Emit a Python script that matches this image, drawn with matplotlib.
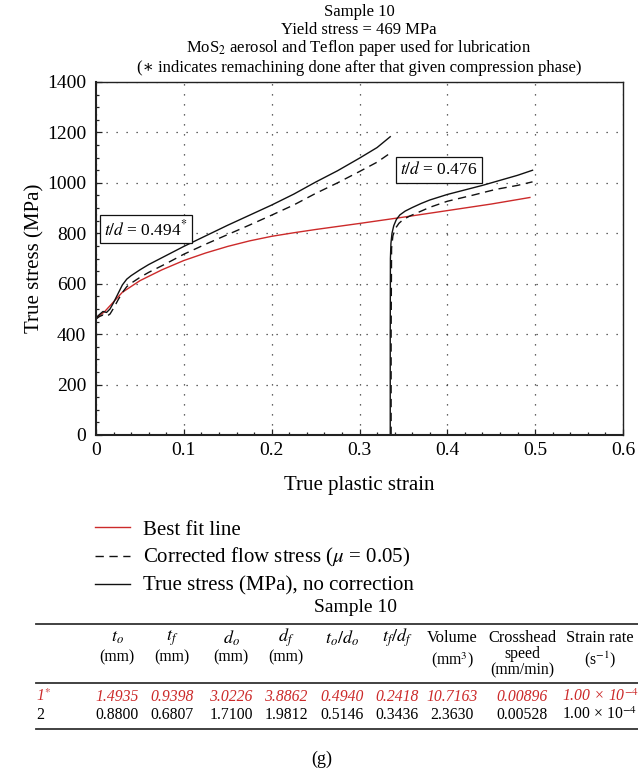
import matplotlib
matplotlib.use("Agg")
import matplotlib.pyplot as plt
from matplotlib.lines import Line2D
from matplotlib.ticker import MultipleLocator

plt.rcParams['font.family'] = ['Liberation Serif', 'DejaVu Serif']
plt.rcParams['mathtext.fontset'] = 'stix'

# ---------------- data ----------------
# Sample 10, compression phase 1 (t/d = 0.494*)
x1 = [0, 0.004, 0.008, 0.012, 0.016, 0.02, 0.025, 0.03, 0.035, 0.04, 0.05, 0.06,
      0.08, 0.1, 0.125, 0.15, 0.175, 0.2, 0.225, 0.25, 0.275, 0.3, 0.32, 0.335]
true1 = [465, 478, 490, 486, 500, 525, 560, 595, 618, 632, 655, 676,
         712, 748, 790, 832, 872, 912, 955, 1003, 1048, 1098, 1140, 1183]
corr1 = [460, 470, 476, 470, 480, 503, 535, 565, 588, 602, 625, 645,
         680, 717, 757, 795, 833, 872, 912, 958, 1000, 1045, 1082, 1118]

# compression phase 2 (t/d = 0.476)
x2 = [0.335, 0.335, 0.3352, 0.3358, 0.337, 0.339, 0.342, 0.346, 0.352, 0.36,
      0.37, 0.38, 0.4, 0.42, 0.44, 0.46, 0.48, 0.497]
true2 = [0, 400, 700, 760, 800, 830, 855, 873, 888, 902,
         918, 932, 954, 972, 990, 1010, 1030, 1050]
x2c = [0.336, 0.336, 0.3365, 0.338, 0.341, 0.345, 0.35, 0.357, 0.365, 0.38,
       0.4, 0.43, 0.455, 0.48, 0.497]
corr2 = [0, 400, 740, 790, 820, 840, 855, 868, 880, 903,
         927, 952, 974, 990, 1004]

# best fit line
xfit = [0, 0.01, 0.02, 0.03, 0.05, 0.075, 0.1, 0.125, 0.15, 0.175, 0.2, 0.225,
        0.25, 0.3, 0.35, 0.4, 0.45, 0.494]
yfit = [462, 490, 528, 566, 612, 655, 692, 722, 748, 770, 788, 802,
        815, 839, 864, 890, 916, 942]

labels_legend = ['Best fit line', r'Corrected flow stress ($\mu$ = 0.05)',
                 'True stress (MPa), no correction']
annot1 = r'$t/d$ = 0.494$^{*}$'
annot2 = r'$t/d$ = 0.476'

title_lines = ['Sample 10', 'Yield stress = 469 MPa',
               r'MoS$_2$ aerosol and Teflon paper used for lubrication',
               '(\u2217 indicates remachining done after that given compression phase)']

# table
table_title = 'Sample 10'
col_head1 = [r'$t_o$', r'$t_f$', r'$d_o$', r'$d_f$', r'$t_o/d_o$', r'$t_f/d_f$',
             'Volume', 'Crosshead', 'Strain rate']
col_head2 = ['(mm)', '(mm)', '(mm)', '(mm)', '', '', r'(mm$^3$)', 'speed', r'(s$^{-1}$)']
col_head3 = ['', '', '', '', '', '', '', '(mm/min)', '']
row_labels = [r'1$^{*}$', '2']
row1 = ['1.4935', '0.9398', '3.0226', '3.8862', '0.4940', '0.2418', '10.7163',
        '0.00896', r'1.00 × 10$^{-4}$']
row2 = ['0.8800', '0.6807', '1.7100', '1.9812', '0.5146', '0.3436', '2.3630',
        '0.00528', r'1.00 × 10$^{-4}$']
panel_label = '(g)'

# ---------------- figure ----------------
W, H = 638, 773
fig = plt.figure(figsize=(W / 100, H / 100), dpi=100)

def fx(px):
    return px / W

def fy(py):
    return 1 - py / H

ax = fig.add_axes([fx(96), fy(435), fx(623) - fx(96), fy(82) - fy(435)])

red = '#cc2a2a'
l_fit, = ax.plot(xfit, yfit, color=red, lw=1.0)
l_corr, = ax.plot(x1, corr1, color='#111111', lw=1.0, ls=(0, (6, 4)))
ax.plot(x2c, corr2, color='#111111', lw=1.0, ls=(0, (6, 4)))
l_true, = ax.plot(x1, true1, color='#111111', lw=1.0)
ax.plot(x2, true2, color='#111111', lw=1.0)

ax.set_xlim(0, 0.6)
ax.set_ylim(0, 1400)
ax.xaxis.set_major_locator(MultipleLocator(0.1))
ax.xaxis.set_minor_locator(MultipleLocator(0.02))
ax.yaxis.set_major_locator(MultipleLocator(200))
ax.yaxis.set_minor_locator(MultipleLocator(50))
ax.set_xticks([0, 0.1, 0.2, 0.3, 0.4, 0.5, 0.6])
ax.set_xticklabels(['0', '0.1', '0.2', '0.3', '0.4', '0.5', '0.6'])
ax.tick_params(which='both', direction='in', top=False, right=False,
               labelsize=14, width=0.9, color='#222222')
ax.tick_params(which='major', length=4, pad=5)
ax.tick_params(which='minor', length=2.5)
ax.tick_params(axis='y', which='major', pad=7)
ax.grid(True, which='major', color='#333333', lw=0.9, ls=(0, (1, 7)))
for s in ax.spines.values():
    s.set_linewidth(1.0)
    s.set_color('#222222')
ax.spines['left'].set_linewidth(1.5)
ax.spines['bottom'].set_linewidth(1.5)

ax.set_xlabel('True plastic strain', fontsize=15, labelpad=12)
ax.set_ylabel('True stress (MPa)', fontsize=15, labelpad=2)

bbox = dict(boxstyle='square,pad=0.25', fc='white', ec='#111111', lw=0.9)
ax.text(0.057, 817, annot1, fontsize=12.5, ha='center', va='center', bbox=bbox)
ax.text(0.39, 1051, annot2, fontsize=12.5, ha='center', va='center', bbox=bbox)

# titles
ty = [12, 30, 48, 68]
for t, y in zip(title_lines, ty):
    fig.text(fx(359), fy(y), t, ha='center', va='center', fontsize=12)

# legend
fig.legend([l_fit, l_corr, l_true], labels_legend, loc='upper left',
           bbox_to_anchor=(fx(95), fy(520)), frameon=False, fontsize=15,
           handlelength=1.7, handletextpad=0.6, labelspacing=0.33,
           borderpad=0, borderaxespad=0)

# table
fig.text(fx(355), fy(608), table_title, ha='center', va='center', fontsize=14)
for yy, lw in [(624, 1.3), (683, 1.3), (729, 1.3)]:
    fig.add_artist(Line2D([fx(36), 1.0], [fy(yy), fy(yy)], transform=fig.transFigure,
                          color='#333333', lw=lw))
colx = [117, 172, 231, 286, 342, 397, 452, 522, 600]
tfs = 11.3
for i, cx in enumerate(colx):
    if col_head3[i]:
        ys = [638, 654, 670]
    elif i in (6, 8):
        ys = [638, 660, None]
    else:
        ys = [638, 657, None]
    hfs = 13 if col_head1[i].startswith('$') else tfs + 0.5
    fig.text(fx(cx), fy(ys[0]), col_head1[i], ha='center', va='center', fontsize=hfs)
    if col_head2[i]:
        fig.text(fx(cx), fy(ys[1]), col_head2[i], ha='center', va='center', fontsize=tfs)
    if col_head3[i]:
        fig.text(fx(cx), fy(ys[2]), col_head3[i], ha='center', va='center', fontsize=tfs)
    fig.text(fx(cx), fy(697), row1[i], ha='center', va='center', fontsize=tfs,
             color=red, style='italic')
    fig.text(fx(cx), fy(715), row2[i], ha='center', va='center', fontsize=tfs)
fig.text(fx(36), fy(697), row_labels[0], ha='left', va='center', fontsize=tfs,
         color=red, style='italic')
fig.text(fx(36), fy(715), row_labels[1], ha='left', va='center', fontsize=tfs)

fig.text(fx(322), fy(759), panel_label, ha='center', va='center', fontsize=13)

fig.savefig('out.png', dpi=100)
